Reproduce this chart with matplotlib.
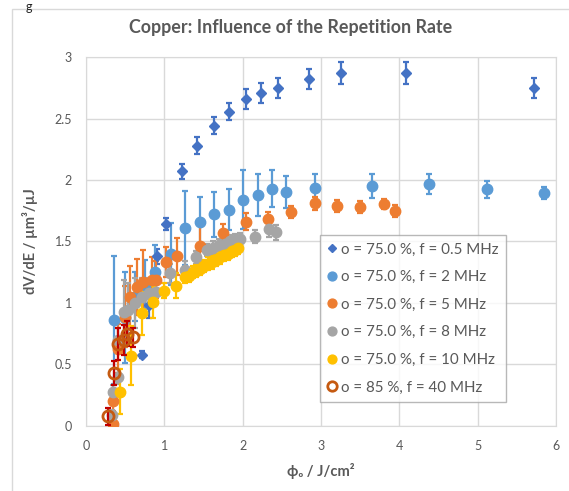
import matplotlib
matplotlib.use('Agg')
import matplotlib.pyplot as plt
import matplotlib.patches as mpa

# 0.5 MHz
x_05 = [0.71, 0.80, 0.91, 1.02, 1.22, 1.42, 1.63, 1.83, 2.04, 2.23, 2.45, 2.85, 3.26, 4.09, 5.72]
y_05 = [0.58, 0.98, 1.38, 1.64, 2.07, 2.28, 2.44, 2.555, 2.66, 2.71, 2.75, 2.82, 2.87, 2.87, 2.75]
e_05 = [0.03, 0.10, 0.06, 0.05, 0.06, 0.07, 0.07, 0.07, 0.08, 0.08, 0.08, 0.08, 0.09, 0.09, 0.08]

# 2 MHz
x_2 = [0.36, 0.50, 0.62, 0.75, 0.88, 1.09, 1.27, 1.45, 1.64, 1.82, 2.00, 2.19, 2.37, 2.55, 2.92,
       3.65, 4.38, 5.12, 5.85]
y_2 = [0.86, 0.88, 1.05, 1.15, 1.25, 1.40, 1.61, 1.66, 1.72, 1.76, 1.84, 1.875, 1.93, 1.905, 1.935,
       1.95, 1.97, 1.925, 1.895]
e_2 = [0.52, 0.37, 0.20, 0.20, 0.22, 0.25, 0.30, 0.20, 0.18, 0.17, 0.24, 0.17, 0.15, 0.13, 0.11,
       0.10, 0.08, 0.07, 0.05]

# 5 MHz
x_5 = [0.35, 0.35, 0.41, 0.50, 0.56, 0.65, 0.73, 0.84, 0.90, 1.02, 1.16, 1.45, 1.75, 2.04, 2.33,
       2.62, 2.92, 3.21, 3.50, 3.80, 3.945]
y_5 = [0.02, 0.20, 0.63, 0.89, 1.05, 1.13, 1.17, 1.19, 1.19, 1.335, 1.38, 1.46, 1.57, 1.66, 1.68,
       1.74, 1.81, 1.79, 1.78, 1.805, 1.75]
e_5 = [0.03, 0.08, 0.20, 0.25, 0.25, 0.23, 0.26, 0.18, 0.15, 0.12, 0.15, 0.20, 0.07, 0.07, 0.06,
       0.05, 0.05, 0.05, 0.05, 0.04, 0.05]

# 8 MHz
x_8 = [0.33, 0.35, 0.41, 0.41, 0.48, 0.54, 0.63, 0.71, 0.80, 0.90, 1.07, 1.26, 1.40, 1.54, 1.62,
       1.70, 1.78, 1.84, 1.90, 1.97, 2.16, 2.34, 2.42]
y_8 = [0.09, 0.28, 0.40, 0.70, 0.93, 0.94, 1.00, 1.05, 1.08, 1.09, 1.24, 1.27, 1.37, 1.43, 1.45,
       1.47, 1.48, 1.50, 1.51, 1.52, 1.54, 1.60, 1.575]
e_8 = [0.04, 0.05, 0.06, 0.10, 0.26, 0.22, 0.20, 0.15, 0.12, 0.10, 0.08, 0.07, 0.05, 0.05, 0.05,
       0.05, 0.05, 0.05, 0.05, 0.05, 0.05, 0.06, 0.06]

# 10 MHz
x_10 = [0.43, 0.57, 0.72, 0.86, 1.00, 1.145, 1.26, 1.31, 1.36, 1.41, 1.46, 1.51, 1.56, 1.61, 1.66,
        1.71, 1.76, 1.81, 1.86, 1.90, 1.945]
y_10 = [0.28, 0.57, 0.92, 1.01, 1.10, 1.14, 1.21, 1.22, 1.25, 1.26, 1.28, 1.30, 1.32, 1.33, 1.35,
        1.37, 1.39, 1.40, 1.42, 1.43, 1.445]
e_10 = [0.18, 0.24, 0.18, 0.13, 0.06, 0.10, 0.05, 0.05, 0.05, 0.05, 0.05, 0.05, 0.05, 0.05, 0.05,
        0.05, 0.05, 0.05, 0.05, 0.05, 0.05]

# 40 MHz, 85 %
x_40 = [0.277, 0.357, 0.41, 0.48, 0.52, 0.60]
y_40 = [0.08, 0.43, 0.67, 0.70, 0.75, 0.72]
e_40 = [0.07, 0.10, 0.13, 0.12, 0.10, 0.08]

labels = ['o = 75.0 %, f = 0.5 MHz', 'o = 75.0 %, f = 2 MHz', 'o = 75.0 %, f = 5 MHz',
          'o = 75.0 %, f = 8 MHz', 'o = 75.0 %, f = 10 MHz', 'o = 85 %, f = 40 MHz']

grey_txt = '#595959'
grid_c = '#D9D9D9'
plt.rcParams['font.family'] = ['Lato', 'DejaVu Sans']

fig = plt.figure(figsize=(5.69, 4.91), dpi=100)
ax = fig.add_axes([0.1511, 0.1324, 0.8260, 0.7515])

# chart border of the surrounding sheet
fig.patches.append(mpa.Rectangle((12 / 569, -0.1), 1.2, 1.09 - 5 / 491 + 0.001,
                                 transform=fig.transFigure, fill=False,
                                 edgecolor=grid_c, lw=1.0))
fig.text(26 / 569, 1.0 - 1 / 491, 'g', fontsize=9, color='#222222', va='top', ha='left')

series = [
    (x_05, y_05, e_05, dict(marker='D', ms=5, color='#4472C4', mfc='#4472C4')),
    (x_2, y_2, e_2, dict(marker='o', ms=7.5, color='#5B9BD5', mfc='#5B9BD5')),
    (x_5, y_5, e_5, dict(marker='o', ms=7.5, color='#ED7D31', mfc='#ED7D31')),
    (x_8, y_8, e_8, dict(marker='o', ms=7.5, color='#A5A5A5', mfc='#A5A5A5')),
    (x_10, y_10, e_10, dict(marker='o', ms=7.5, color='#FFC000', mfc='#FFC000')),
]
handles = []
for (xs, ys, es, st), lab in zip(series, labels[:5]):
    c = st['color']
    ax.errorbar(xs, ys, yerr=es, fmt='none', ecolor=c, elinewidth=1.6, capsize=2.5,
                capthick=1.6, zorder=2)
    h, = ax.plot(xs, ys, linestyle='None', marker=st['marker'], ms=st['ms'], mfc=st['mfc'],
                 mec=c, label=lab, zorder=3)
    handles.append(h)

ax.errorbar(x_40, y_40, yerr=e_40, fmt='none', ecolor='#C00000', elinewidth=1.6, capsize=2.5,
            capthick=1.6, zorder=4)
h, = ax.plot(x_40, y_40, linestyle='None', marker='o', ms=8, mfc='none', mec='#C55A11', mew=2,
             label=labels[5], zorder=5)
handles.append(h)

ax.set_xlim(0, 6)
ax.set_ylim(0, 3)
ax.set_xticks([0, 1, 2, 3, 4, 5, 6])
ax.set_yticks([0, 0.5, 1, 1.5, 2, 2.5, 3])
ax.set_yticklabels(['0', '0.5', '1', '1.5', '2', '2.5', '3'])
ax.grid(True, color=grid_c, lw=1.0)
ax.set_axisbelow(True)
for s in ax.spines.values():
    s.set_color(grid_c)
ax.tick_params(length=0, labelsize=9, labelcolor=grey_txt, pad=10)

fig.text(291 / 569, 1 - 28 / 491, 'Copper: Influence of the Repetition Rate', fontsize=12.9,
         fontweight='bold', color=grey_txt, ha='center', va='center')
ax.set_xlabel('ϕ₀ / J/cm²', fontsize=10.5, fontweight='bold', color=grey_txt, labelpad=8)
ax.set_ylabel('dV/dE / µm³/µJ', fontsize=10.5, fontweight='bold', color=grey_txt, labelpad=12)

leg = ax.legend(handles=handles, loc='upper left', bbox_to_anchor=(0.498, 0.518), fontsize=10.9,
                frameon=True, fancybox=False, handlelength=0.6, handletextpad=0.3,
                borderpad=0.5, labelspacing=0.9, borderaxespad=0, markerscale=0.85)
leg.get_frame().set_edgecolor('#A6A6A6')
leg.get_frame().set_linewidth(1.0)
for t in leg.get_texts():
    t.set_color(grey_txt)

fig.savefig('out.png', dpi=100)
